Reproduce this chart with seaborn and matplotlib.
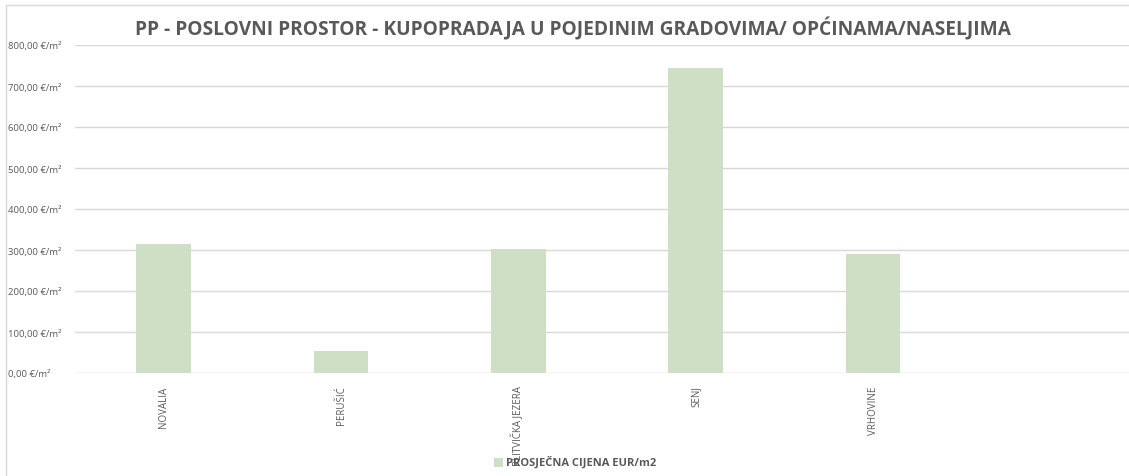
import matplotlib
matplotlib.use("Agg")
import matplotlib.pyplot as plt
import seaborn as sns
import pandas as pd
from matplotlib.patches import Rectangle
from matplotlib.ticker import FuncFormatter

categories = ["NOVALIA", "PERUŠIĆ", "PLITVIČKA JEZERA", "SENJ", "VRHOVINE"]
values = [314.5, 54.0, 302.5, 743.0, 290.0]
series_name = "PROSJEČNA CIJENA EUR/m2"
title = "PP - POSLOVNI PROSTOR - KUPOPRADAJA U POJEDINIM GRADOVIMA/ OPĆINAMA/NASELJIMA"
y_ticks = [0, 100, 200, 300, 400, 500, 600, 700, 800]

sns.set_theme(style="white")
plt.rcParams["font.family"] = ["Open Sans", "DejaVu Sans"]

W, H = 1129, 477
fig = plt.figure(figsize=(W / 100, H / 100), dpi=100)
fig.patch.set_facecolor("white")

ax_left, ax_right, ax_top, ax_bottom = 75, 1139, 46, 374
ax = fig.add_axes([ax_left / W, 1 - ax_bottom / H, (ax_right - ax_left) / W, (ax_bottom - ax_top) / H])

df = pd.DataFrame({"Grad": categories, "Cijena": values})
bar_color = "#CFDFC6"
sns.barplot(data=df, x="Grad", y="Cijena", color=bar_color, width=0.31, ax=ax,
            saturation=1, edgecolor="none", zorder=3)

ax.set_xlim(-0.5, 5.5)
ax.set_ylim(0, 800)
ax.set_yticks(y_ticks)
ax.yaxis.set_major_formatter(FuncFormatter(lambda v, p: f"{v:,.2f}".replace(",", "X").replace(".", ",").replace("X", ".") + " €/m²"))
ax.grid(axis="y", color="#D9D9D9", linewidth=1.0, zorder=0)
ax.grid(axis="x", visible=False)
for s in ax.spines.values():
    s.set_visible(False)
ax.tick_params(axis="y", length=0, pad=(ax_left - 8) * 0.72, labelsize=6.8, labelcolor="#595959")
for lab in ax.get_yticklabels():
    lab.set_horizontalalignment("left")
ax.tick_params(axis="x", length=0, pad=9, labelsize=7, labelcolor="#595959")
ax.set_xticks(range(len(categories)))
ax.set_xticklabels(categories, rotation=90, va="top", ha="center")
ax.set_xlabel("")
ax.set_ylabel("")

# chart frame
fig.patches.append(Rectangle((6 / W, -0.1), 2.0, 1 - 6 / H + 0.1, transform=fig.transFigure,
                             fill=False, edgecolor="#D9D9D9", linewidth=1.0, zorder=0))

fig.text(573 / W, 1 - 29 / H, title, ha="center", va="center", fontsize=13.8,
         fontweight="bold", color="#595959")

# legend
fig.patches.append(Rectangle((494 / W, 1 - 468 / H), 9 / W, 9 / H, transform=fig.transFigure,
                             facecolor=bar_color, edgecolor="none"))
fig.text(506 / W, 1 - 463 / H, series_name, ha="left", va="center", fontsize=8,
         fontweight="bold", color="#595959", zorder=5)

fig.savefig("out.png", dpi=100)
